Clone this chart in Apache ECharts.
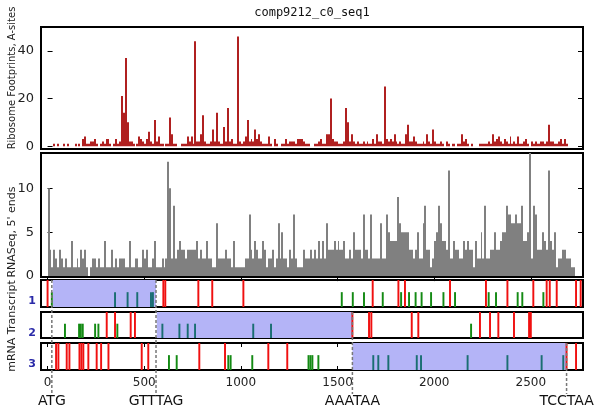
<!DOCTYPE html>
<html><head><meta charset="utf-8">
<script src="https://cdn.jsdelivr.net/npm/echarts@6/dist/echarts.min.js"></script>
<style>html,body{margin:0;padding:0;background:#fff}#c{width:594px;height:416px}</style>
</head><body><div id="c"></div>
<script>
const chartTitle = 'comp9212_c0_seq1';
const binSize = 10;
const riboLabel = 'Ribosome Footprints, A-sites';
const rnaLabel = "RNASeq, 5' ends";
const trackLabel = 'mRNA Transcript';
const frameNames = ['1', '2', '3'];
const xTicks = [0, 500, 1000, 1500, 2000, 2500];
const riboTicks = [0, 20, 40];
const rnaTicks = [0, 5, 10];

const riboCounts = [
 0,0,0,1,0,1,0,0,1,0, 1,0,0,0,1,0,1,0,3,4, 1,1,2,2,3,1,0,1,2,1, 3,3,1,0,1,3,1,2,21,14,
 37,10,2,2,1,0,1,4,3,2, 1,3,6,2,1,11,2,4,1,1, 0,1,1,12,5,1,1,0,0,1, 1,1,4,2,4,1,44,2,2,5,
 13,2,1,1,2,7,2,14,2,1, 1,8,2,16,2,3,1,1,46,2, 1,2,4,11,2,3,2,7,3,5, 2,1,1,1,4,1,0,3,1,0,
 0,1,1,3,1,2,2,2,1,3, 3,3,2,1,1,1,0,0,1,1, 2,3,1,1,5,5,20,3,2,2, 1,1,1,2,16,10,2,5,2,1,
 2,1,1,2,1,2,1,1,3,1, 5,2,2,1,25,3,2,3,2,5, 2,1,2,1,1,5,9,2,2,4, 2,1,1,1,2,1,5,2,1,7,
 2,1,1,2,1,0,2,1,0,1, 1,0,1,1,5,2,3,1,0,1, 0,0,0,1,1,1,1,1,2,1, 5,2,3,4,2,1,3,2,1,4,
 1,2,1,4,1,1,2,3,1,0, 2,1,2,1,1,2,2,1,2,9, 2,2,1,1,2,3,1,3,1,0
];
const rnaCounts = [
 10,3,1,3,2,1,3,2,1,2, 1,1,4,1,1,2,1,3,2,3, 1,0,1,2,2,1,2,1,1,4, 1,1,1,3,1,2,1,2,2,2,
 1,1,4,1,1,2,2,1,1,3, 2,3,1,1,2,4,1,1,1,2, 1,2,13,10,2,8,2,3,4,3, 3,2,3,3,3,3,3,4,2,3,
 2,2,4,2,2,1,1,6,2,2, 2,2,3,2,2,1,4,1,1,1, 1,1,2,2,7,3,2,4,3,2, 2,4,3,1,2,2,3,1,2,6,
 2,5,2,2,1,3,2,7,2,1, 1,1,3,2,2,2,3,2,3,2, 4,2,4,2,6,3,3,3,4,3, 4,3,3,4,2,2,3,2,5,3,
 3,3,2,7,3,3,2,7,2,2, 2,2,6,2,2,7,5,4,4,4, 4,9,6,5,5,5,5,3,3,2, 3,5,2,2,6,8,3,3,1,2,
 4,5,8,6,4,4,3,12,2,2, 4,3,3,2,2,4,3,4,3,3, 1,4,2,2,5,2,8,2,2,3, 3,5,3,3,4,5,5,8,7,7,
 6,6,7,6,6,8,4,4,5,14, 2,8,7,3,3,3,5,4,3,12, 4,3,5,1,2,2,3,3,2,2, 2,1,1
];

const orfs = [[27, 561], [565, 1577], [1577, 2682]];
const stops = [
 [0, 599, 609, 780, 852, 1013, 1682, 1815, 1849, 2082, 2268, 2379, 2513, 2582, 2598, 2634, 2734, 2758],
 [306, 349, 430, 452, 1577, 1663, 1675, 1884, 1918, 2237, 2289, 2332, 2413, 2491, 2500],
 [44, 56, 99, 113, 165, 175, 185, 211, 254, 277, 315, 487, 521, 785, 918, 1142, 1240, 2685, 2734]
];
const starts = [
 [22, 349, 414, 464, 535, 545, 1522, 1579, 1637, 1734, 1829, 1870, 1904, 1935, 1984, 2048, 2108, 2282, 2320, 2432, 2456, 2565],
 [90, 163, 172, 182, 246, 263, 361, 594, 682, 725, 763, 1064, 1156, 2191],
 [628, 668, 935, 947, 1059, 1350, 1360, 1370, 1401, 1685, 1711, 1763, 1910, 1932, 2173, 2379, 2556, 2668]
];
const markerPos = [22, 561, 1577, 2685];
const markerLabels = ['ATG', 'GTTTAG', 'AAATAA', 'TCCTAA'];
const markerFrame = [0, 0, 1, 2];

const X_MIN = -34, X_MAX = 2770;
const FONT = 'DejaVu Sans';
const chart = echarts.init(document.getElementById('c'), null, {renderer: 'canvas'});

const grids = [
  {left: 41, right: 11, top: 27, height: 122},
  {left: 41, right: 11, top: 153, height: 124},
  {left: 41, right: 11, top: 280, height: 27},
  {left: 41, right: 11, top: 312, height: 26},
  {left: 41, right: 11, top: 343, height: 27}
].map(g => Object.assign({show: true, borderColor: '#000', borderWidth: 2, backgroundColor: 'transparent'}, g));

function hiddenX(gi) {
  return {type: 'value', gridIndex: gi, min: X_MIN, max: X_MAX, axisLine: {show: false}, axisTick: {show: false}, axisLabel: {show: false}, splitLine: {show: false}};
}
const xAxes = [hiddenX(0),
  Object.assign(hiddenX(1), {position: 'top', axisTick: {show: true, inside: true, length: 5, customValues: xTicks, lineStyle: {color: '#000'}}}),
  hiddenX(2), hiddenX(3),
  Object.assign(hiddenX(4), {position: 'bottom', axisTick: {show: true, inside: true, length: 4, customValues: xTicks, lineStyle: {color: '#000'}},
    axisLabel: {show: true, customValues: xTicks, margin: 7, color: '#222', fontFamily: FONT, fontSize: 12, formatter: v => String(v)}}),
  Object.assign(hiddenX(4), {position: 'top', axisTick: {show: true, inside: true, length: 4, customValues: xTicks, lineStyle: {color: '#000'}}})
];

function valueY(gi, min, max, ticks, side) {
  return {type: 'value', gridIndex: gi, min: min, max: max, position: side,
    axisLine: {show: false}, splitLine: {show: false},
    axisTick: {show: true, inside: true, length: 5, customValues: ticks, lineStyle: {color: '#000'}},
    axisLabel: side === 'left' ? {show: true, customValues: ticks, margin: 7, color: '#222', fontFamily: FONT, fontSize: 13, formatter: v => String(v)} : {show: false}};
}
function hiddenY(gi) {
  return {type: 'value', gridIndex: gi, min: 0, max: 1, axisLine: {show: false}, axisTick: {show: false}, axisLabel: {show: false}, splitLine: {show: false}};
}
const yAxes = [
  valueY(0, -1.2, 50, riboTicks, 'left'), valueY(0, -1.2, 50, riboTicks, 'right'),
  valueY(1, -0.1, 14, rnaTicks, 'left'), valueY(1, -0.1, 14, rnaTicks, 'right'),
  hiddenY(2), hiddenY(3), hiddenY(4)
];

function binRender(color) {
  return function (params, api) {
    const x = api.value(0), v = api.value(1);
    const p0 = api.coord([x, 0]);
    const p1 = api.coord([x + binSize, v]);
    const xa = Math.round(p0[0]), xb = Math.round(p1[0]);
    return {type: 'rect', shape: {x: xa, y: p1[1], width: Math.max(1, xb - xa), height: p0[1] - p1[1]}, style: {fill: color}};
  };
}
function binData(arr) { return arr.map((v, k) => [k * binSize, v]); }

const series = [
  {type: 'custom', xAxisIndex: 0, yAxisIndex: 0, data: binData(riboCounts), renderItem: binRender('#b02020'), clip: true, silent: true},
  {type: 'custom', xAxisIndex: 1, yAxisIndex: 2, data: binData(rnaCounts), renderItem: binRender('#808080'), clip: true, silent: true}
];

for (let f = 0; f < 3; f++) {
  const xi = f + 2, yi = f + 4;
  series.push({type: 'custom', xAxisIndex: xi, yAxisIndex: yi, data: [orfs[f]], clip: true, silent: true, z: 1,
    renderItem: function (params, api) {
      const a = api.coord([api.value(0), 1]);
      const b = api.coord([api.value(1), 0]);
      return {type: 'rect', shape: {x: a[0], y: a[1], width: b[0] - a[0], height: b[1] - a[1]}, style: {fill: '#b4b4f7'}};
    }});
  series.push({type: 'custom', xAxisIndex: xi, yAxisIndex: yi, data: starts[f].map(p => [p]), clip: true, silent: true, z: 3,
    renderItem: function (params, api) {
      const x = api.value(0);
      const inOrf = x >= orfs[f][0] && x <= orfs[f][1];
      const a = api.coord([x - 5, 0.55]);
      const b = api.coord([x + 5, 0]);
      return {type: 'rect', shape: {x: a[0], y: a[1], width: b[0] - a[0], height: b[1] - a[1]}, style: {fill: inOrf ? '#1a6e72' : '#138a13'}};
    }});
  series.push({type: 'custom', xAxisIndex: xi, yAxisIndex: yi, data: stops[f].map(p => [p]), clip: true, silent: true, z: 4,
    renderItem: function (params, api) {
      const x = api.value(0);
      const a = api.coord([x - 5, 1]);
      const b = api.coord([x + 5, 0]);
      return {type: 'rect', shape: {x: a[0], y: a[1], width: b[0] - a[0], height: b[1] - a[1]}, style: {fill: '#f01010'}};
    }});
}

chart.setOption({animation: false, grid: grids, xAxis: xAxes, yAxis: yAxes, series: series});

const graphics = [
  {type: 'text', x: 312, y: 13, style: {text: chartTitle, fill: '#111', fontFamily: 'DejaVu Sans Mono', fontSize: 12, align: 'center', verticalAlign: 'middle'}},
  {type: 'text', x: 12, y: 78, rotation: Math.PI / 2, style: {text: riboLabel, fill: '#222', fontFamily: FONT, fontSize: 10, align: 'center', verticalAlign: 'middle'}},
  {type: 'text', x: 12, y: 232, rotation: Math.PI / 2, style: {text: rnaLabel, fill: '#222', fontFamily: FONT, fontSize: 11, align: 'center', verticalAlign: 'middle'}},
  {type: 'text', x: 12, y: 326, rotation: Math.PI / 2, style: {text: trackLabel, fill: '#222', fontFamily: FONT, fontSize: 11, align: 'center', verticalAlign: 'middle'}}
];
for (let f = 0; f < 3; f++) {
  const yb = chart.convertToPixel({yAxisIndex: f + 4}, 0.2);
  graphics.push({type: 'text', x: 32, y: yb, style: {text: frameNames[f], fill: '#2a2aa8', fontFamily: FONT, fontSize: 11, fontWeight: 'bold', align: 'center', verticalAlign: 'middle'}});
}
for (let i = 0; i < markerPos.length; i++) {
  const x = chart.convertToPixel({xAxisIndex: 4}, markerPos[i]);
  const yTop = chart.convertToPixel({yAxisIndex: markerFrame[i] + 4}, 1);
  graphics.push({type: 'line', z: 10, shape: {x1: x, y1: yTop, x2: x, y2: 394}, style: {stroke: '#777', lineWidth: 1.5, lineDash: [3, 2]}});
  graphics.push({type: 'text', x: x, y: 401, style: {text: markerLabels[i], fill: '#111', fontFamily: FONT, fontSize: 14, align: 'center', verticalAlign: 'middle'}});
}
chart.setOption({graphic: graphics});
</script></body></html>
